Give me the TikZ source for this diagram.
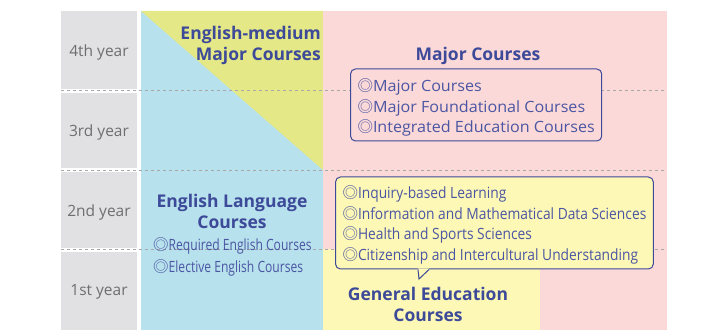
\documentclass[tikz,border=0pt]{standalone}
\usepackage{fontspec}
\setmainfont{Open Sans}
\newfontfamily\majfont[FakeStretch=1.04]{Open Sans}
\newfontfamily\gefont[FakeStretch=0.89]{Open Sans}
\newfontfamily\narrowfont[FakeStretch=0.78]{Open Sans}
\newfontfamily\symfont{Noto Sans CJK JP}
\usetikzlibrary{positioning}
\definecolor{cellgray}{HTML}{E1E1E3}
\definecolor{engblue}{HTML}{B7E1EC}
\definecolor{emigreen}{HTML}{E4E886}
\definecolor{majpink}{HTML}{FBD9D8}
\definecolor{genyellow}{HTML}{FDF8B5}
\definecolor{navy}{HTML}{3D4A99}
\definecolor{listblue}{HTML}{4B56A3}
\definecolor{yeargray}{HTML}{6E6E6E}
\definecolor{dashgray}{HTML}{A8A8A8}
\newcommand{\dcirc}{{\symfont ◎}}

\begin{document}
\begin{tikzpicture}[x=1pt,y=-1pt,
    year/.style={text=yeargray,font=\fontsize{15.5}{15.5}\selectfont},
    title/.style={text=navy,align=center,inner sep=0pt,font=\bfseries\fontsize{17.5}{21.5}\selectfont},
    listbox/.style={draw=navy,line width=1pt,rounded corners=5pt,align=left,text=listblue,
      inner xsep=7pt,inner ysep=4pt,anchor=west},
    yearline/.style={draw=dashgray,line width=0.8pt,dash pattern=on 3pt off 3pt}]
  \useasboundingbox (0,0) rectangle (705,334);
  \fill[cellgray] (61,11) rectangle (137,89);
  \fill[cellgray] (61,93) rectangle (137,168);
  \fill[cellgray] (61,172) rectangle (137,248);
  \fill[cellgray] (61,252) rectangle (137,330);
  \fill[engblue] (141,11) rectangle (323,329.5);
  \fill[emigreen] (141,11) -- (323,11) -- (323,170) -- cycle;
  \fill[majpink] (323,11) rectangle (667,329.5);
  \fill[genyellow] (323,249.5) rectangle (540,329.5);
  \foreach \y in {90.5,170,249.5}
    \draw[yearline] (61,\y) -- (667,\y);

  \node[year] (y4) at (99,52) {4th year};
  \node[year] (y3) at (99,132) {3rd year};
  \node[year] (y2) at (99,212) {2nd year};
  \node[year] (y1) at (99,292) {1st year};

  \node[title,align=right,anchor=east] (emmc) at (321,45.5) {English-medium\\Major Courses};
  \node[title] (major) at (478,56) {Major Courses};
  \node[listbox,fill=majpink,minimum height=72pt,
    font=\majfont\fontsize{15.5}{20.6}\selectfont] (majbox) at (350,105)
    {\rule{0pt}{18pt}\dcirc Major Courses\\\dcirc Major Foundational Courses\\\dcirc Integrated Education Courses};

  \node[title] (elc) at (232,211.5) {English Language\\Courses};
  \node[text=listblue,align=left,anchor=north west,inner sep=0pt,
    font=\narrowfont\fontsize{15.5}{22}\selectfont] (englist) at (153,237)
    {\dcirc Required English Courses\\\dcirc Elective English Courses};

  \node[listbox,fill=genyellow,minimum height=92pt,
    font=\gefont\fontsize{15.5}{20.6}\selectfont] (gebox) at (335,223)
    {\rule{0pt}{17pt}\dcirc Inquiry-based Learning\\\dcirc Information and Mathematical Data Sciences\\
     \dcirc Health and Sports Sciences\\\dcirc Citizenship and Intercultural Understanding};
  \coordinate (tip) at (419,279);
  \fill[genyellow] ([xshift=-1pt,yshift=1pt]tip |- gebox.south) -- (tip) -- ([xshift=10pt,yshift=1pt]tip |- gebox.south) -- cycle;
  \draw[navy,line width=1pt,line join=miter] ([xshift=-1pt]tip |- gebox.south) -- (tip) -- ([xshift=10pt]tip |- gebox.south);
  \node[title] (gen) at (428,304.5) {General Education\\Courses};
\end{tikzpicture}
\end{document}
